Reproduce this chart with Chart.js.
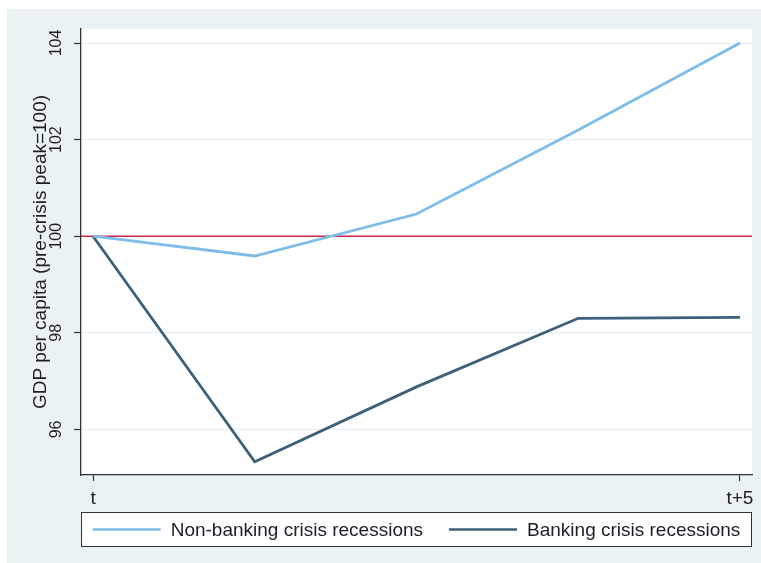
<!DOCTYPE html>
<html>
<head>
<meta charset="utf-8">
<script src="https://cdn.jsdelivr.net/npm/chart.js@4.4.0/dist/chart.umd.min.js"></script>
<style>
  html, body { margin: 0; padding: 0; background: #fff; }
  canvas { display: block; }
</style>
</head>
<body>
<canvas id="gdpChart" width="761" height="563"></canvas>
<script>
// years after the pre-crisis peak (t = 0, t+5 = 5)
const periods = [0, 1.25, 2.5, 3.75, 5];
const nonBanking = [100, 99.59, 100.46, 102.2, 104.0];
const banking = [100, 95.33, 96.88, 98.3, 98.32];
const xTickValues = [0, 5];
const xTickLabels = ['t', 't+5'];
const yTickValues = [96, 98, 100, 102, 104];
const peakLevel = 100;

const FONT = '"Liberation Sans", Arial, sans-serif';
const TEXT = '#1e1e28';
const AXIS = '#333';

function toPoints(vals) {
    return vals.map((v, i) => ({ x: periods[i], y: v }));
}

// backgrounds: grey-blue frame, white plot region
const frame = {
    id: 'frame',
    beforeDraw(chart) {
        const { ctx, chartArea: a } = chart;
        ctx.save();
        ctx.fillStyle = '#fff';
        ctx.fillRect(0, 0, chart.width, chart.height);
        ctx.fillStyle = '#EAF2F3';
        ctx.fillRect(7, 9, chart.width - 7, chart.height - 9);
        ctx.fillStyle = '#fff';
        ctx.fillRect(a.left, a.top, a.right - a.left, a.bottom - a.top);
        ctx.restore();
    }
};

// horizontal line at the pre-crisis peak
const peakLine = {
    id: 'peakLine',
    beforeDatasetsDraw(chart) {
        const { ctx, chartArea: a, scales } = chart;
        const y = scales.y.getPixelForValue(peakLevel);
        ctx.save();
        ctx.strokeStyle = '#C62848';
        ctx.lineWidth = 1.5;
        ctx.beginPath();
        ctx.moveTo(a.left, y);
        ctx.lineTo(a.right, y);
        ctx.stroke();
        ctx.restore();
    }
};

// boxed legend under the x axis, stata style
const legendBox = {
    id: 'legendBox',
    afterDraw(chart) {
        const { ctx, chartArea: a } = chart;
        const top = a.bottom + 37, h = 35;
        ctx.save();
        ctx.fillStyle = '#fff';
        ctx.fillRect(a.left, top, a.right - a.left, h);
        ctx.strokeStyle = AXIS;
        ctx.lineWidth = 1;
        ctx.strokeRect(a.left + 0.5, top + 0.5, a.right - a.left - 1, h - 1);

        ctx.font = '19px ' + FONT;
        const lineLen = 68, gap = 10, itemGap = 26;
        const items = chart.data.datasets.map(ds => ({
            label: ds.label,
            color: ds.borderColor,
            w: lineLen + gap + ctx.measureText(ds.label).width
        }));
        const total = items.reduce((s, it) => s + it.w, 0) + itemGap * (items.length - 1);
        let x = (a.left + a.right) / 2 - total / 2;
        const cy = top + h / 2;
        items.forEach(it => {
            ctx.strokeStyle = it.color;
            ctx.lineWidth = 2.6;
            ctx.beginPath();
            ctx.moveTo(x, cy);
            ctx.lineTo(x + lineLen, cy);
            ctx.stroke();
            ctx.fillStyle = TEXT;
            ctx.textAlign = 'left';
            ctx.textBaseline = 'middle';
            ctx.fillText(it.label, x + lineLen + gap, cy + 1);
            x += it.w + itemGap;
        });
        ctx.restore();
    }
};

let ctx0 = document.getElementById('gdpChart').getContext('2d');
var chart = new Chart(ctx0, {
    type: 'line',
    data: {
        datasets: [{
            label: 'Non-banking crisis recessions',
            data: toPoints(nonBanking),
            borderColor: '#7DBDE8',
            borderWidth: 2.8,
            pointRadius: 0,
            tension: 0
        }, {
            label: 'Banking crisis recessions',
            data: toPoints(banking),
            borderColor: '#3D6079',
            borderWidth: 2.8,
            pointRadius: 0,
            tension: 0
        }]
    },
    options: {
        responsive: false,
        animation: false,
        events: [],
        layout: { padding: { left: 22, top: 29, right: 9, bottom: 48 } },
        plugins: {
            legend: { display: false },
            tooltip: { enabled: false }
        },
        scales: {
            x: {
                type: 'linear',
                min: -0.093,
                max: 5.093,
                afterBuildTicks: s => { s.ticks = xTickValues.map(v => ({ value: v })); },
                afterFit: s => { s.height = 40; },
                ticks: {
                    callback: (v, i) => xTickLabels[i],
                    autoSkip: false,
                    maxRotation: 0,
                    padding: 6,
                    color: TEXT,
                    font: { family: FONT, size: 19 }
                },
                grid: { drawOnChartArea: false, tickLength: 6, tickColor: AXIS, tickWidth: 1.2 },
                border: { color: AXIS, width: 1.3 }
            },
            y: {
                min: 95.056,
                max: 104.29,
                afterBuildTicks: s => { s.ticks = yTickValues.map(v => ({ value: v })); },
                afterFit: s => { s.width = 59; },
                ticks: {
                    minRotation: 90,
                    maxRotation: 90,
                    crossAlign: 'center',
                    padding: 4,
                    color: TEXT,
                    font: { family: FONT, size: 16 }
                },
                grid: { color: '#E4EEF2', lineWidth: 1, tickLength: 7, tickColor: AXIS, tickWidth: 1.2 },
                border: { color: AXIS, width: 1.3 },
                title: {
                    display: true,
                    text: 'GDP per capita (pre-crisis peak=100)',
                    color: TEXT,
                    font: { family: FONT, size: 19 },
                    padding: { top: 7, bottom: 0 }
                }
            }
        }
    },
    plugins: [frame, peakLine, legendBox]
});
</script>
</body>
</html>
